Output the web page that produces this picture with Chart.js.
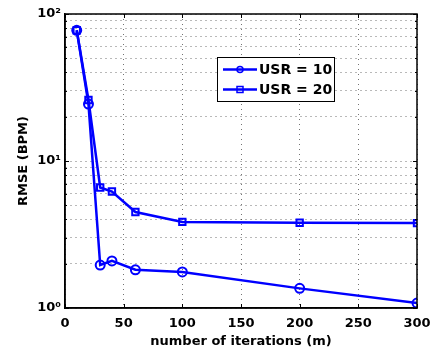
<!DOCTYPE html>
<html>
<head>
<meta charset="utf-8">
<script src="https://cdn.jsdelivr.net/npm/chart.js@4.4.1/dist/chart.umd.min.js"></script>
<style>
  html, body { margin: 0; padding: 0; background: #fff; }
  #wrap { width: 433px; height: 354px; }
</style>
</head>
<body>
<div id="wrap"><canvas id="chart-rmse" width="433" height="354"></canvas></div>
<script>
// iterations (m) on x, RMSE (BPM) on log y
var iterations = [10, 20, 30, 40, 60, 100, 200, 300];
var usr10 = [77.5, 24.4, 1.96, 2.09, 1.82, 1.76, 1.36, 1.08];
var usr20 = [77.5, 26.0, 6.6, 6.2, 4.5, 3.85, 3.8, 3.78];
var seriesNames = ['USR = 10', 'USR = 20'];
var xTicks = [0, 50, 100, 150, 200, 250, 300];
var yTicks = [1, 2, 3, 4, 5, 6, 7, 8, 9, 10, 20, 30, 40, 50, 60, 70, 80, 90, 100];
var yLabels = { 1: '10\u2070', 10: '10\u00b9', 100: '10\u00b2' };

var FONT = 'DejaVu Sans';
var BLUE = '#0000ff';

function pairs(xs, ys) {
    return xs.map(function(x, i) { return { x: x, y: ys[i] } })
}

// box around the plot + inward tick marks
var boxPlugin = {
    id: 'box',
    afterDraw: function(chart) {
        var ctx = chart.ctx, a = chart.chartArea
        var xs = chart.scales.x, ys = chart.scales.y
        ctx.save()
        ctx.strokeStyle = '#000'
        ctx.lineWidth = 1
        ctx.beginPath()
        xTicks.forEach(function(v) {
            var px = Math.round(xs.getPixelForValue(v)) + 0.5
            ctx.moveTo(px, a.bottom); ctx.lineTo(px, a.bottom - 4)
            ctx.moveTo(px, a.top); ctx.lineTo(px, a.top + 4)
        })
        yTicks.forEach(function(v) {
            var py = Math.round(ys.getPixelForValue(v)) + 0.5
            var len = yLabels[v] ? 4 : 2
            ctx.moveTo(a.left, py); ctx.lineTo(a.left + len, py)
            ctx.moveTo(a.right, py); ctx.lineTo(a.right - len, py)
        })
        ctx.stroke()
        ctx.lineWidth = 1.5
        ctx.strokeRect(a.left, a.top, a.right - a.left, a.bottom - a.top)
        ctx.restore()
    }
}

// legend drawn inside the plot, matlab style
var legendPlugin = {
    id: 'innerLegend',
    afterDraw: function(chart) {
        var ctx = chart.ctx
        var x0 = 217, y0 = 57, w = 117, h = 44
        ctx.save()
        ctx.fillStyle = '#fff'
        ctx.fillRect(x0, y0, w, h)
        ctx.strokeStyle = '#000'
        ctx.lineWidth = 1
        ctx.strokeRect(x0 + 0.5, y0 + 0.5, w, h)
        chart.data.datasets.forEach(function(ds, i) {
            var cy = y0 + 12.5 + i * 20
            ctx.strokeStyle = BLUE
            ctx.lineWidth = 2.5
            ctx.beginPath()
            ctx.moveTo(x0 + 6, cy); ctx.lineTo(x0 + 40, cy)
            ctx.stroke()
            ctx.lineWidth = 1.5
            if (ds.pointStyle === 'rect') {
                ctx.strokeRect(x0 + 20, cy - 3, 6, 6)
            } else {
                ctx.beginPath()
                ctx.arc(x0 + 23, cy, 3, 0, Math.PI * 2)
                ctx.stroke()
            }
            ctx.fillStyle = '#000'
            ctx.font = 'bold 14px "' + FONT + '"'
            ctx.textBaseline = 'middle'
            ctx.fillText(ds.label, x0 + 42, cy + 1)
        })
        ctx.restore()
    }
}

var canvas = document.getElementById('chart-rmse').getContext('2d')

new Chart(canvas, {
    type: 'line',
    data: {
        datasets: [{
            label: seriesNames[0],
            data: pairs(iterations, usr10),
            borderColor: BLUE,
            borderWidth: 2.5,
            pointStyle: 'circle',
            pointRadius: 4.5,
            pointBorderWidth: 2,
            pointBorderColor: BLUE,
            pointBackgroundColor: 'rgba(0,0,0,0)',
            tension: 0
        }, {
            label: seriesNames[1],
            data: pairs(iterations, usr20),
            borderColor: BLUE,
            borderWidth: 2.5,
            pointStyle: 'rect',
            pointRadius: 4.5,
            pointBorderWidth: 2,
            pointBorderColor: BLUE,
            pointBackgroundColor: 'rgba(0,0,0,0)',
            tension: 0
        }]
    },
    options: {
        responsive: false,
        animation: false,
        events: [],
        layout: { padding: { top: 14, right: 16, left: 0, bottom: 0 } },
        plugins: {
            legend: { display: false },
            tooltip: { enabled: false }
        },
        scales: {
            x: {
                type: 'linear',
                min: 0,
                max: 300,
                afterBuildTicks: function(scale) {
                    scale.ticks = xTicks.map(function(v) { return { value: v } })
                },
                afterFit: function(scale) {
                    scale.height = 46
                    scale.paddingLeft = 0
                    scale.paddingRight = 0
                },
                ticks: {
                    color: '#000',
                    padding: 8,
                    maxRotation: 0,
                    font: { family: FONT, size: 13, weight: 'bold' }
                },
                grid: { color: 'rgba(0,0,0,0.55)', lineWidth: 1, drawTicks: false },
                border: { display: true, color: '#000', width: 1.5, dash: [1, 4] },
                title: {
                    display: true,
                    text: 'number of iterations (m)',
                    color: '#000',
                    padding: { top: 0, bottom: 5 },
                    font: { family: FONT, size: 13, weight: 'bold' }
                }
            },
            y: {
                type: 'logarithmic',
                min: 1,
                max: 100,
                afterBuildTicks: function(scale) {
                    scale.ticks = yTicks.map(function(v) { return { value: v } })
                },
                afterFit: function(scale) {
                    scale.width = 65
                    scale.paddingTop = 0
                    scale.paddingBottom = 0
                },
                ticks: {
                    color: '#000',
                    padding: 4,
                    autoSkip: false,
                    font: { family: FONT, size: 13, weight: 'bold' },
                    callback: function(v) { return yLabels[v] || '' }
                },
                grid: { color: 'rgba(0,0,0,0.55)', lineWidth: 1, drawTicks: false },
                border: { display: true, color: '#000', width: 1.5, dash: [1, 4] },
                title: {
                    display: true,
                    text: 'RMSE (BPM)',
                    color: '#000',
                    padding: { top: 16, bottom: 0 },
                    font: { family: FONT, size: 13, weight: 'bold' }
                }
            }
        }
    },
    plugins: [boxPlugin, legendPlugin]
})
</script>
</body>
</html>
